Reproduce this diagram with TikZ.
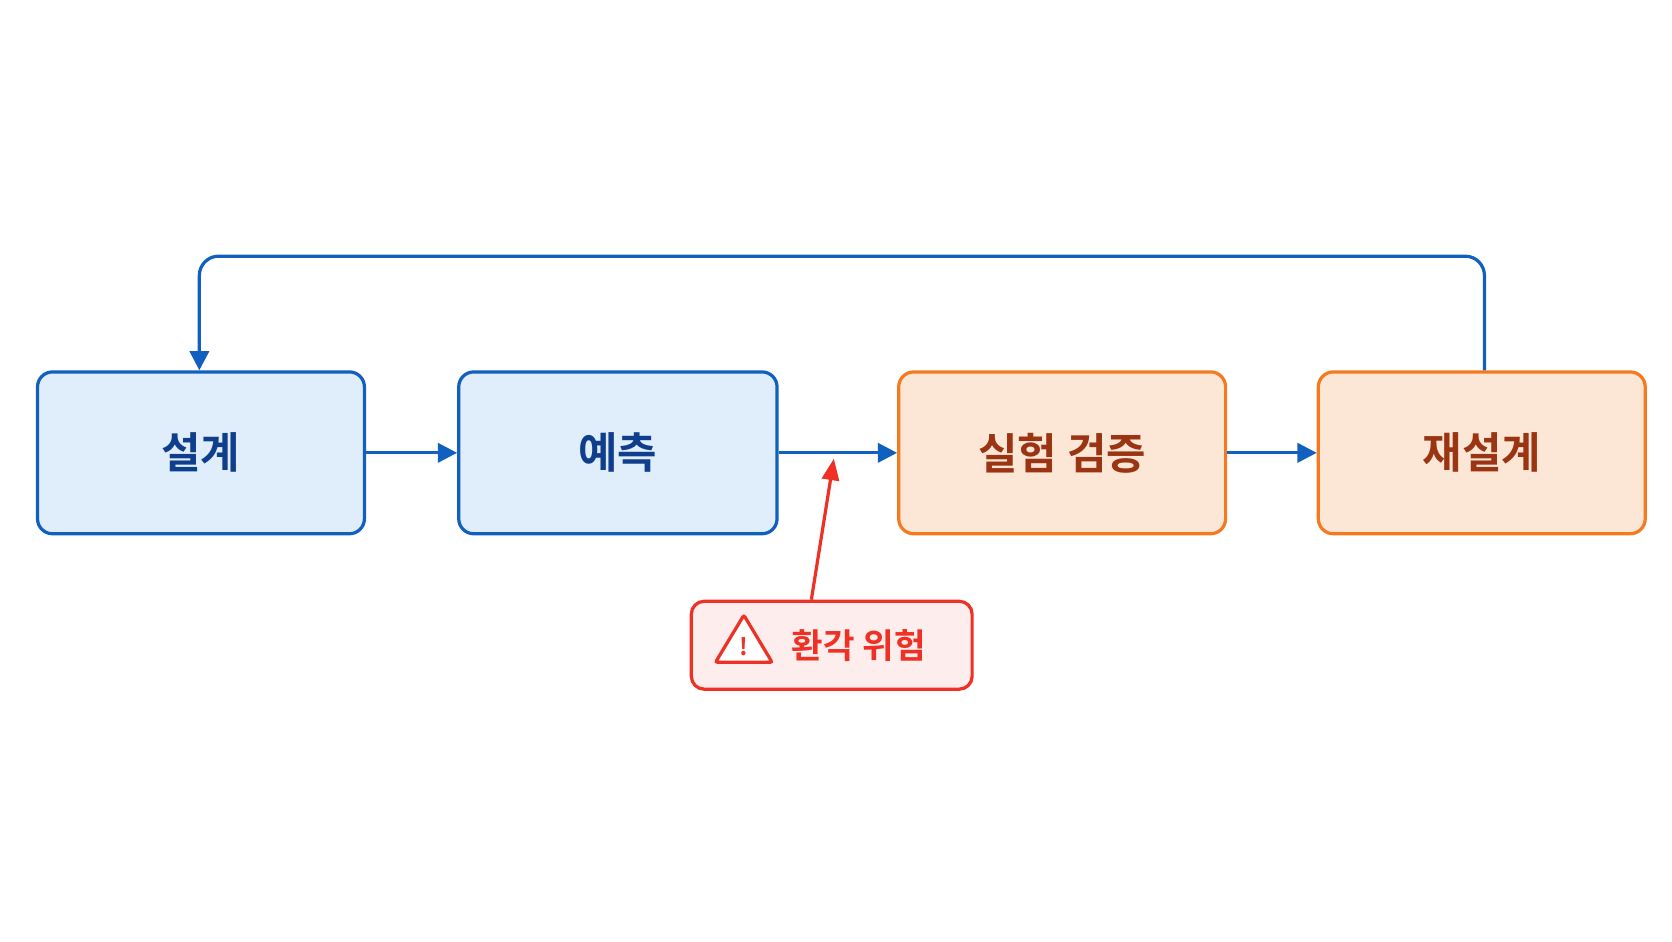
\documentclass[tikz,border=0pt]{standalone}
\usepackage{fontspec}
\newfontfamily\kr{Noto Sans CJK KR}[BoldFont={Noto Sans CJK KR Bold}]
\usetikzlibrary{arrows.meta,shapes.geometric}
\definecolor{bline}{HTML}{1160C0}
\definecolor{bfill}{HTML}{E0EDFA}
\definecolor{btext}{HTML}{0F3F8C}
\definecolor{oline}{HTML}{F57A1F}
\definecolor{ofill}{HTML}{FCE6D6}
\definecolor{otext}{HTML}{9A3412}
\definecolor{rline}{HTML}{EE3124}
\definecolor{rfill}{HTML}{FDEDED}
\begin{document}
\begin{tikzpicture}[x=1pt,y=-1pt,
  box/.style={rounded corners=14pt,line width=3pt,minimum width=305pt,minimum height=151pt,font=\kr\bfseries\fontsize{40}{44}\selectfont,inner sep=0pt},
  bbox/.style={box,draw=bline,fill=bfill,text=btext},
  obox/.style={box,draw=oline,fill=ofill,text=otext},
  arr/.style={line width=3pt,draw=bline,-{Triangle[length=18pt,width=18pt]}}]
\useasboundingbox (0,0) rectangle (1560,878);
\node[bbox] (a) at (187.5,422.5) {설계};
\node[bbox,minimum width=297pt] (b) at (576.5,422.5) {예측};
\node[obox] (c) at (991,422.5) {실험 검증};
\node[obox] (d) at (1382.5,422.5) {재설계};
\node[draw=rline,fill=rfill,line width=3pt,rounded corners=12pt,minimum width=262pt,minimum height=82pt,inner sep=0pt] (w) at (776,602) {};
\node[isosceles triangle,isosceles triangle apex angle=62,shape border rotate=90,draw=rline,line width=3pt,rounded corners=2pt,minimum height=44pt,inner sep=0pt,fill=white] (tri) at (694,603) {};
\node[text=rline,font=\kr\bfseries\fontsize{22}{24}\selectfont] (ex) at (tri.center) {!};
\node[text=rline,font=\kr\bfseries\fontsize{32}{36}\selectfont,anchor=west] (wt) at (735,602) {환각 위험};
\draw[arr] (a) -- (b);
\draw[arr] (b) -- (c);
\draw[arr] (c) -- (d);
\coordinate (t1) at (1385,239);
\coordinate (t2) at (186,239);
\draw[arr,rounded corners=18pt] (d.north -| t1) -- (t1) -- (t2) -- (a.north -| t2);
\coordinate (rt) at (778,428);
\draw[line width=3pt,draw=rline,-{Triangle[length=20pt,width=16pt]}] (w.north -| 757,0) -- (rt);
\end{tikzpicture}
\end{document}
